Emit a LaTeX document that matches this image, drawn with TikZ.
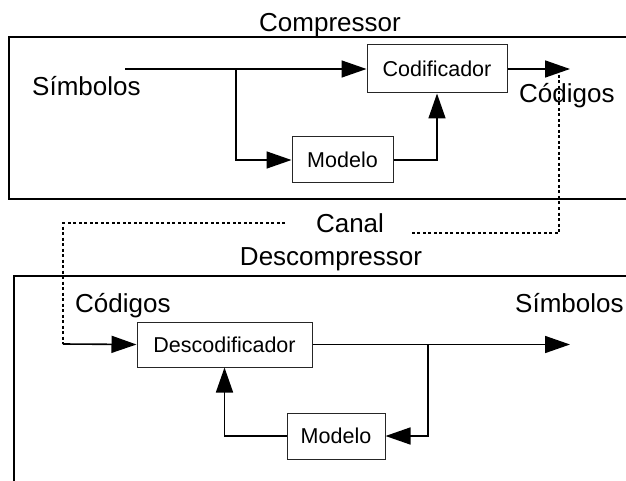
\documentclass[tikz,border=0pt]{standalone}
\usepackage{fontspec}
\setmainfont{Liberation Sans}
\usetikzlibrary{arrows.meta}
\tikzset{
  outer/.style={draw=black, line width=1.8pt},
  blockbox/.style={draw=black!85, line width=1pt, inner sep=0pt, font=\fontsize{21.5}{24}\selectfont},
  biglabel/.style={inner sep=0pt, font=\fontsize{26}{30}\selectfont},
  conn/.style={line width=1.6pt, -{Triangle[length=25pt,width=17pt]}},
  plain/.style={line width=1.6pt},
  chan/.style={line width=1.6pt, dash pattern=on 3pt off 2.5pt},
}
\begin{document}
\begin{tikzpicture}[x=1pt,y=-1pt]
\useasboundingbox (0,0) rectangle (626,481);
\clip (0,0) rectangle (626,481);
% compressor
\draw[outer] (9,37) rectangle (680,199);
\node[biglabel, anchor=base] (comp) at (330,32) {Compressor};
\node[biglabel, anchor=base west] (simin) at (32,96) {Símbolos};
\node[blockbox, minimum width=140pt, minimum height=48pt] (cod) at (437,69) {Codificador};
\node[blockbox, minimum width=101pt, minimum height=46pt] (mod1) at (342.5,160) {Modelo};
\node[biglabel, anchor=base west] (codout) at (519,103) {Códigos};
\coordinate (inA) at (125,69);
\coordinate (br1) at (236,69);
\coordinate (outA) at (570,69);
\draw[plain] (inA) -- (br1);
\draw[conn] (br1) -- (cod.west);
\draw[conn] (br1) |- (mod1.west);
\draw[conn] (mod1.east) -| (cod.south);
\draw[conn] (cod.east) -- (outA);
% channel
\node[biglabel, anchor=base] (canal) at (350,232) {Canal};
\coordinate (ch1) at (559,75);
\coordinate (ch2) at (410,233);
\coordinate (ch3) at (285,223);
\coordinate (ch4) at (63,344);
\draw[chan] (ch1) |- (ch2);
\draw[chan] (ch3) -| (ch4);
% decompressor
\draw[outer] (14,276) rectangle (680,520);
\node[biglabel, anchor=base] (decomp) at (331,265) {Descompressor};
\node[biglabel, anchor=base west] (codin) at (75,312) {Códigos};
\node[biglabel, anchor=base west] (simout) at (515,312) {Símbolos};
\node[blockbox, minimum width=175pt, minimum height=45pt] (dec) at (224.5,344.5) {Descodificador};
\node[blockbox, minimum width=98pt, minimum height=46pt] (mod2) at (336,436) {Modelo};
\coordinate (br2) at (428,344.5);
\coordinate (outB) at (570,344.5);
\draw[conn] (ch4) -- (dec.west);
\draw[conn] (dec.east) -- (outB);
\draw[conn] (br2) |- (mod2.east);
\draw[conn] (mod2.west) -| (dec.south);
\end{tikzpicture}
\end{document}
